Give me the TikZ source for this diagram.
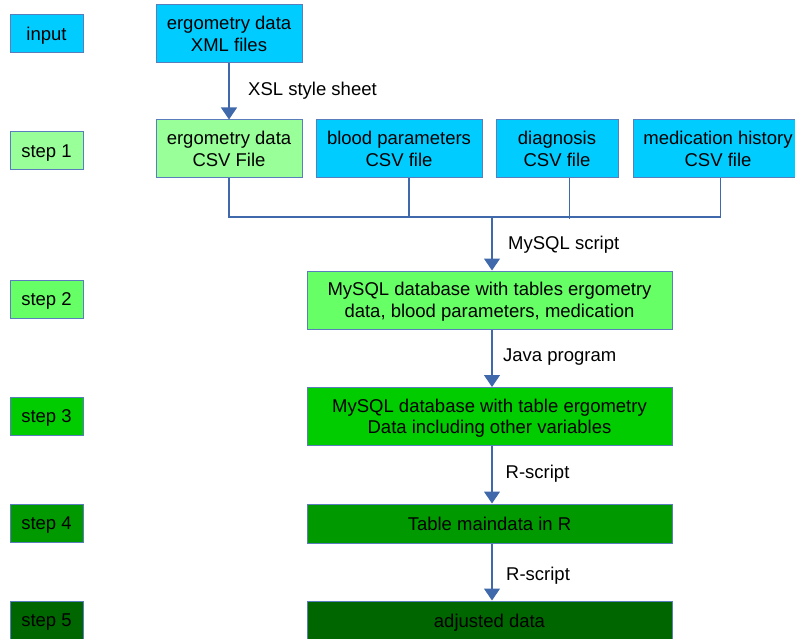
\documentclass[tikz,border=0pt]{standalone}
\usepackage{fontspec}
\setmainfont{Liberation Sans}
\usetikzlibrary{arrows.meta}
\definecolor{cyanbox}{HTML}{00CCFF}
\definecolor{lgreen}{HTML}{99FF99}
\definecolor{g2}{HTML}{66FF66}
\definecolor{g3}{HTML}{00CC00}
\definecolor{g4}{HTML}{009900}
\definecolor{g5}{HTML}{006600}
\definecolor{bordc}{HTML}{5A7EBB}
\definecolor{arrc}{HTML}{3F69AA}
\tikzset{
  box/.style={draw=bordc, line width=1pt, inner sep=0pt, align=center, text depth=0pt,
    font=\fontsize{18.5}{21.5}\selectfont},
  lbox/.style={box, minimum width=73pt, minimum height=38pt},
  fbox/.style={box, minimum height=58pt},
  wbox/.style={box, minimum width=365pt},
  lbl/.style={anchor=base west, inner sep=0pt, font=\fontsize{18.5}{21.5}\selectfont},
  conn/.style={draw=arrc, line width=1.2pt, -{Triangle[width=16pt,length=12pt]}},
  bus/.style={draw=arrc, line width=1.1pt}
}
\begin{document}
\begin{tikzpicture}[x=1pt,y=-1pt]
\useasboundingbox (0,0) rectangle (795,639);
% left step labels
\node[lbox, fill=cyanbox] (lin) at (46.5,34) {input};
\node[lbox, fill=lgreen] (l1) at (46.5,151) {step 1};
\node[lbox, fill=g2] (l2) at (46.5,299.5) {step 2};
\node[lbox, fill=g3] (l3) at (46.5,416) {step 3};
\node[lbox, fill=g4] (l4) at (46.5,523.5) {step 4};
\node[lbox, fill=g5] (l5) at (46.5,620.5) {step 5};
% top
\node[fbox, fill=cyanbox, minimum width=146pt] (xml) at (229,34) {ergometry data\\XML files};
\node[fbox, fill=lgreen, minimum width=146pt] (erg) at (229,149) {ergometry data\\CSV File};
\node[fbox, fill=cyanbox, minimum width=166pt] (blood) at (399,149) {blood parameters\\CSV file};
\node[fbox, fill=cyanbox, minimum width=122pt] (diag) at (557,149) {diagnosis\\CSV file};
\node[fbox, fill=cyanbox, minimum width=170pt] (med) at (718,149) {medication history\\CSV file};
% main column
\node[wbox, fill=g2, minimum height=58pt] (db1) at (489.5,300) {MySQL database with tables ergometry\\data, blood parameters, medication};
\node[wbox, fill=g3, minimum height=58pt] (db2) at (489.5,416.5) {MySQL database with table ergometry\\Data including other variables};
\node[wbox, fill=g4, minimum height=39pt] (tab) at (489.5,523.5) {Table maindata in R};
\node[wbox, fill=g5, minimum height=39pt] (adj) at (489.5,620.5) {adjusted data};
% coordinates
\coordinate (busL) at (229,217);
\coordinate (bloodx) at (409,217);
\coordinate (diagx) at (569.5,219);
\coordinate (medx) at (720.5,217);
\coordinate (mid) at (492,217);
% connectors
\draw[conn] (xml) -- (erg);
\node[lbl] (t1) at (248,96) {XSL style sheet};
\draw[bus] (erg.south) -- (busL) -- (medx) -- (med.south -| medx);
\draw[bus] (blood.south -| bloodx) -- (bloodx);
\draw[bus] (diag.south -| diagx) -- (diagx);
\draw[conn] (mid) -- (db1.north -| mid);
\node[lbl] (t2) at (508,250) {MySQL script};
\draw[conn] (db1.south -| mid) -- (db2.north -| mid);
\node[lbl] (t3) at (503,361.5) {Java program};
\draw[conn] (db2.south -| mid) -- (tab.north -| mid);
\node[lbl] (t4) at (505.5,478) {R-script};
\draw[conn] (tab.south -| mid) -- (adj.north -| mid);
\node[lbl] (t5) at (506,580) {R-script};
\end{tikzpicture}
\end{document}
